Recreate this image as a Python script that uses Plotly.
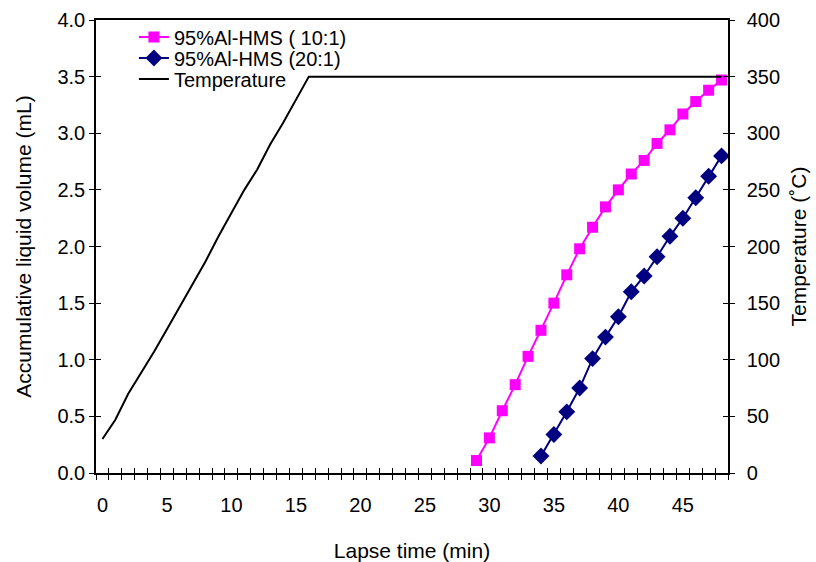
import plotly.graph_objects as go

# Temperature profile (°C) vs time (min)
temp_time = list(range(0, 49))
temp_vals = [30, 47, 70, 88, 107, 127, 147, 166, 187, 209, 229, 250, 268, 290, 309, 330] + [350] * 33

# 95%Al-HMS (10:1)
t_10 = list(range(29, 49))
v_10 = [0.11, 0.31, 0.55, 0.78, 1.03, 1.26, 1.50, 1.75, 1.98, 2.17, 2.35, 2.50,
        2.64, 2.76, 2.91, 3.03, 3.17, 3.28, 3.38, 3.47]

# 95%Al-HMS (20:1)
t_20 = list(range(34, 49))
v_20 = [0.15, 0.34, 0.54, 0.75, 1.01, 1.20, 1.38, 1.60, 1.74, 1.91, 2.09, 2.25,
        2.43, 2.62, 2.80]

x_labels = [0, 5, 10, 15, 20, 25, 30, 35, 40, 45]

FONT = "Arial, Liberation Sans, sans-serif"
TFS = 20   # tick font size
LFS = 21   # title font size
LEGFS = 20 # legend font size

fig = go.Figure()
fig.add_trace(go.Scatter(x=t_10, y=v_10, name="95%Al-HMS ( 10:1)", mode="lines+markers",
                         line=dict(color="#FF00FF", width=2), legend="legend",
                         marker=dict(symbol="square", size=11, color="#FF00FF")))
fig.add_trace(go.Scatter(x=t_20, y=v_20, name="95%Al-HMS (20:1)", mode="lines+markers",
                         line=dict(color="#000080", width=2), legend="legend2",
                         marker=dict(symbol="diamond", size=13, color="#000080")))
fig.add_trace(go.Scatter(x=temp_time, y=temp_vals, name="Temperature", mode="lines",
                         line=dict(color="black", width=2), yaxis="y2", legend="legend3"))
# helper traces so overlay tick axes render
fig.add_trace(go.Scatter(x=[None], y=[None], xaxis="x2", yaxis="y3", showlegend=False, hoverinfo="skip"))
fig.add_trace(go.Scatter(x=[None], y=[None], xaxis="x", yaxis="y4", showlegend=False, hoverinfo="skip"))

tickfont = dict(family=FONT, size=TFS, color="black")
titlefont = dict(family=FONT, size=LFS, color="black")

def leg(ypix):
    return dict(x=0.060, y=1 - (ypix - 20) / 453, xanchor="left", yanchor="middle",
                bgcolor="rgba(0,0,0,0)", font=dict(family=FONT, size=LEGFS, color="black"),
                borderwidth=0)

fig.update_layout(
    width=816, height=562,
    margin=dict(l=96, r=88, t=20, b=89),
    paper_bgcolor="white", plot_bgcolor="white",
    font=dict(family=FONT, size=TFS, color="black"),
    showlegend=True,
    legend=leg(37), legend2=leg(58), legend3=leg(79),
    xaxis=dict(range=[-0.5, 48.5], tickvals=x_labels, ticks="", showline=True,
               linecolor="black", linewidth=1.5, mirror=True, showgrid=False, zeroline=False,
               tickfont=tickfont, ticklabelstandoff=13, automargin=False,
               minor=dict(tick0=-0.5, dtick=1, ticks="outside", ticklen=5, tickcolor="black", showgrid=False),
               title=dict(text="Lapse time (min)", font=titlefont, standoff=29)),
    xaxis2=dict(range=[-0.5, 48.5], overlaying="x", anchor="y", showline=False, showgrid=False,
                zeroline=False, showticklabels=False, tick0=-0.5, dtick=1, ticks="inside",
                ticklen=5, tickcolor="black", automargin=False),
    yaxis=dict(range=[0, 4.0], dtick=0.5, tickformat=".1f", ticks="outside", ticklen=5,
               tickcolor="black", showline=True, linecolor="black", linewidth=1.5,
               showgrid=False, zeroline=False, tickfont=tickfont, automargin=False,
               title=dict(text="Accumulative liquid volume (mL)", font=titlefont, standoff=20)),
    yaxis2=dict(range=[0, 400], dtick=50, overlaying="y", side="right", anchor="x",
                ticks="outside", ticklen=5, tickcolor="black", showline=True,
                linecolor="black", linewidth=1.5, showgrid=False, zeroline=False,
                tickfont=tickfont, ticklabelstandoff=8, automargin=False,
                title=dict(text="Temperature (˚C)", font=titlefont, standoff=12)),
    yaxis3=dict(range=[0, 4.0], dtick=0.5, overlaying="y", side="left", anchor="x2",
                ticks="inside", ticklen=5, tickcolor="black", showticklabels=False,
                showline=False, showgrid=False, zeroline=False, automargin=False),
    yaxis4=dict(range=[0, 400], dtick=50, overlaying="y", side="right", anchor="x",
                ticks="inside", ticklen=5, tickcolor="black", showticklabels=False,
                showline=False, showgrid=False, zeroline=False, automargin=False),
)

fig.write_html("out.html")
